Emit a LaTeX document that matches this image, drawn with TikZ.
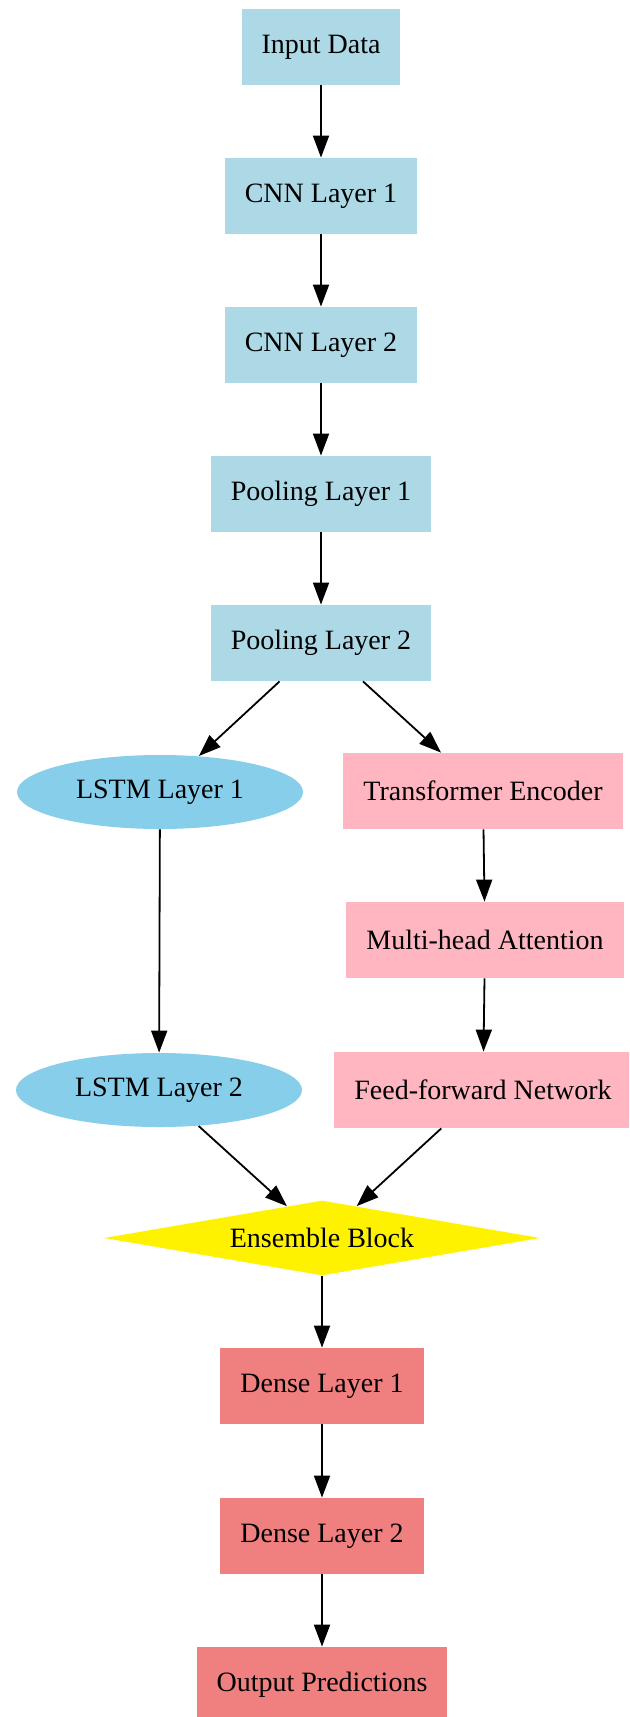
\documentclass[tikz,border=0pt]{standalone}
\usepackage{fontspec}
\setmainfont{Liberation Serif}
\usetikzlibrary{shapes.geometric,arrows.meta}
\definecolor{hellblau}{RGB}{173,216,230}
\definecolor{himmelblau}{RGB}{135,206,235}
\definecolor{rosa}{RGB}{255,182,193}
\definecolor{koralle}{RGB}{240,128,128}
\tikzset{
  schicht/.style={rectangle, inner xsep=10pt, inner ysep=0pt, minimum height=38pt,
    font=\fontsize{14}{16}\selectfont},
  cnnbox/.style={schicht, fill=hellblau},
  trafobox/.style={schicht, fill=rosa},
  densebox/.style={schicht, fill=koralle},
  lstmbox/.style={ellipse, fill=himmelblau, inner sep=0pt, minimum width=143pt,
    minimum height=37pt, font=\fontsize{14}{16}\selectfont},
  ensbox/.style={diamond, fill=yellow, inner sep=0pt, aspect=5.8, minimum width=218pt,
    minimum height=37.5pt, font=\fontsize{14}{16}\selectfont},
  pfeil/.style={line width=0.9pt, -{Triangle[length=11pt,width=8pt]}}
}
\begin{document}
\begin{tikzpicture}[x=0.5pt,y=-0.5pt]
  \clip (0,0) rectangle (629,1717);
  \fill[white] (0,0) rectangle (629,1717);
  % Hauptstrang
  \node[cnnbox] (in) at (321,47) {Input Data};
  \node[cnnbox] (cnn1) at (321,196) {CNN Layer 1};
  \node[cnnbox] (cnn2) at (321,345) {CNN Layer 2};
  \node[cnnbox] (pool1) at (321,494) {Pooling Layer 1};
  \node[cnnbox] (pool2) at (321,643) {Pooling Layer 2};
  % linker Zweig (LSTM)
  \node[lstmbox] (lstm1) at (160,792) {LSTM Layer 1};
  \node[lstmbox] (lstm2) at (159,1090) {LSTM Layer 2};
  % rechter Zweig (Transformer)
  \node[trafobox] (trafo) at (483,791) {Transformer Encoder};
  \node[trafobox] (mha) at (485,940) {Multi-head Attention};
  \node[trafobox] (ffn) at (483,1090) {Feed-forward Network};
  % Zusammenfuehrung
  \node[ensbox] (ens) at (322,1238) {Ensemble Block};
  \node[densebox] (dense1) at (322,1386) {Dense Layer 1};
  \node[densebox] (dense2) at (322,1536) {Dense Layer 2};
  \node[densebox] (out) at (322,1685) {Output Predictions};
  % Pfeile
  \foreach \a/\b in {in/cnn1, cnn1/cnn2, cnn2/pool1, pool1/pool2, pool2/lstm1, pool2/trafo,
      lstm1/lstm2, trafo/mha, mha/ffn, lstm2/ens, ffn/ens, ens/dense1, dense1/dense2, dense2/out}
    \draw[pfeil] (\a) -- (\b);
\end{tikzpicture}
\end{document}
